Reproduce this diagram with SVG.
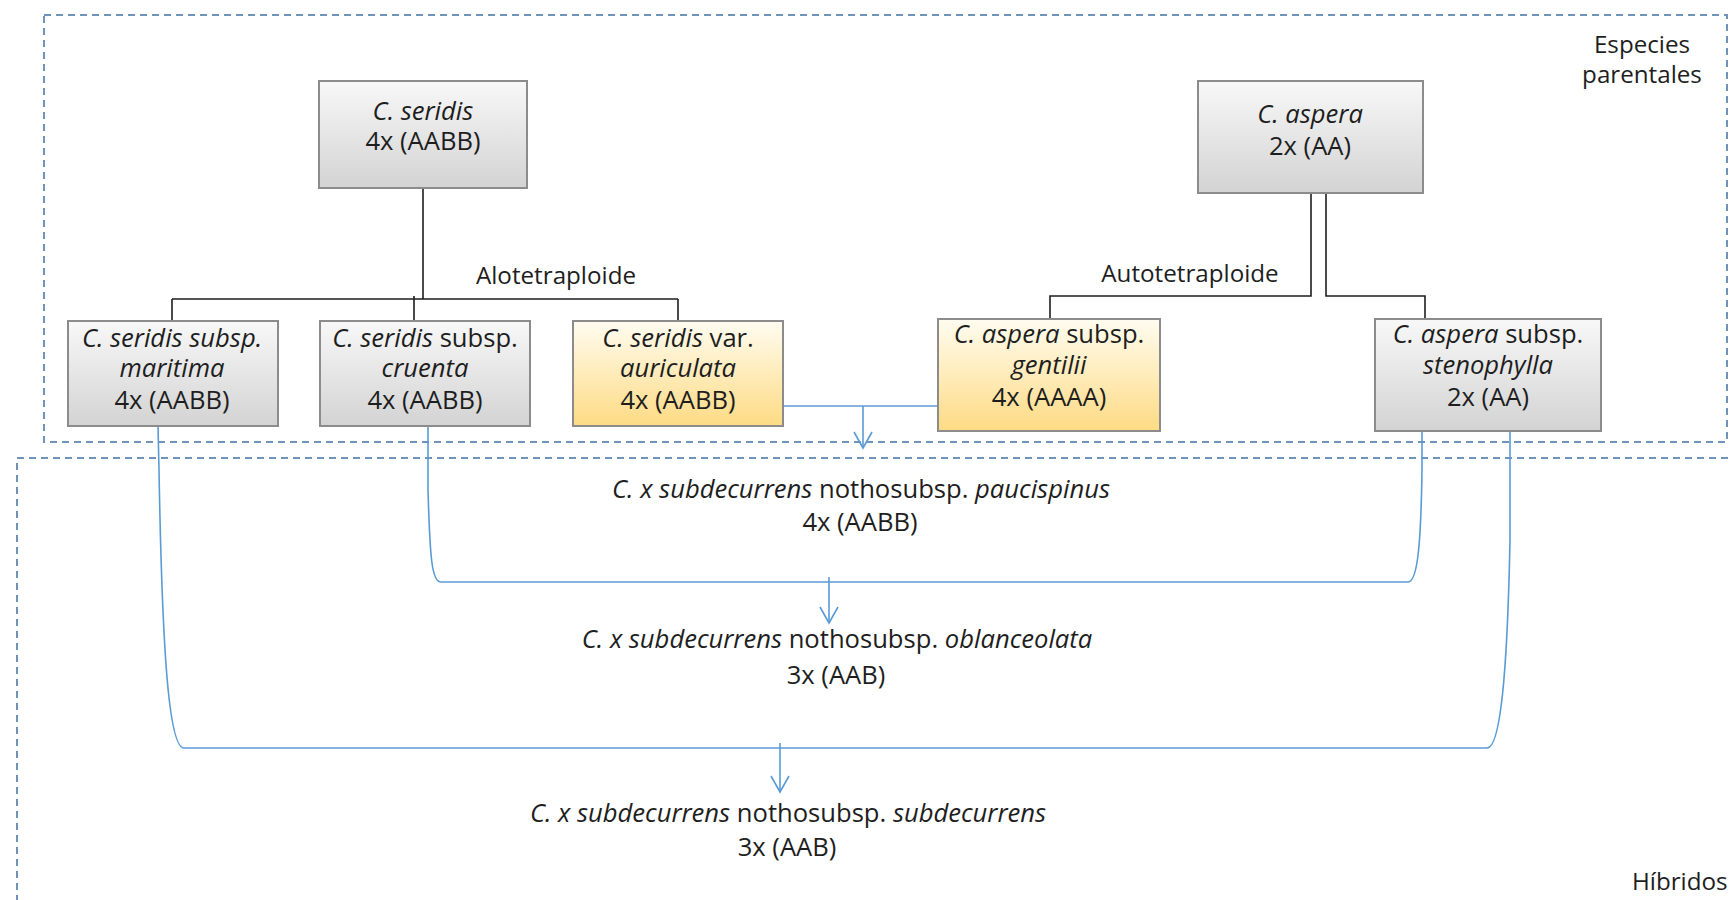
<svg xmlns="http://www.w3.org/2000/svg" width="1729" height="900" viewBox="0 0 1729 900">
<defs>
<linearGradient id="gGray" x1="0" y1="0" x2="0" y2="1">
<stop offset="0" stop-color="#f8f8f8"/>
<stop offset="1" stop-color="#d3d3d3"/>
</linearGradient>
<linearGradient id="gGold" x1="0" y1="0" x2="0" y2="1">
<stop offset="0" stop-color="#fffcf0"/>
<stop offset="1" stop-color="#fedb84"/>
</linearGradient>
<marker id="arr" markerUnits="userSpaceOnUse" viewBox="-18 -11 20 22" markerWidth="20" markerHeight="22" refX="0" refY="0" orient="auto">
<path d="M-16,-9 L0,0 L-16,9" fill="none" stroke="#5b9bd5" stroke-width="1.6"/>
</marker>
<style>
text{font-family:"Open Sans","Liberation Sans",sans-serif;font-size:25.6px;fill:#1e1e1e}
.lbl{font-size:24.2px}
.m{text-anchor:middle}
.i{font-style:italic}
.box{stroke:#8c8c8c;stroke-width:2}
.gray{fill:url(#gGray)}
.gold{fill:url(#gGold)}
.blk{fill:none;stroke:#1e1e1e;stroke-width:1.6}
.blue{fill:none;stroke:#5b9bd5;stroke-width:1.6}
.region{fill:none;stroke:#6f93b9;stroke-width:2;stroke-dasharray:7 5}
</style>
</defs>
<rect width="1729" height="900" fill="#ffffff"/>

<g id="region-parentales">
<rect class="region" x="44" y="15" width="1683" height="427"/>
<text class="m lbl" x="1642" y="53">Especies</text>
<text class="m lbl" x="1642" y="83">parentales</text>
</g>
<g id="region-hibridos">
<rect class="region" x="17" y="458" width="1730" height="460"/>
<text class="lbl" x="1632" y="890">Híbridos</text>
</g>

<g id="connectors">
<path class="blk" d="M423,188 V299 M172,299 H678 M172,299 V321 M414,296 V321 M678,299 V321"/>
<path class="blk" d="M1311,193 V296 H1050 V319"/>
<path class="blk" d="M1326,193 V296 H1425 V319"/>
<text class="m lbl" x="556" y="284">Alotetraploide</text>
<text class="m lbl" x="1190" y="282">Autotetraploide</text>
<path class="blue" d="M783,406 H938"/>
<path class="blue" d="M863,406 V448" marker-end="url(#arr)"/>
<path class="blue" d="M428,426 L428,490 C430,560 432,582 441,582 L1408,582 C1418,582 1421,540 1422,470 L1422,431"/>
<path class="blue" d="M829,577 V623" marker-end="url(#arr)"/>
<path class="blue" d="M158,426 L159,470 C162,640 168,748 184,748 L1487,748 C1503,748 1508,640 1510,540 L1510,431"/>
<path class="blue" d="M780,743 V792" marker-end="url(#arr)"/>
</g>

<g id="node-seridis">
<rect class="box gray" x="319" y="81" width="208" height="107"/>
<text class="m" x="423" y="120"><tspan class="i">C. seridis</tspan></text>
<text class="m" x="423" y="150">4x (AABB)</text>
</g>
<g id="node-aspera">
<rect class="box gray" x="1198" y="81" width="225" height="112"/>
<text class="m" x="1310" y="123"><tspan class="i">C. aspera</tspan></text>
<text class="m" x="1310" y="155">2x (AA)</text>
</g>
<g id="node-maritima">
<rect class="box gray" x="68" y="321" width="210" height="105"/>
<text class="m i" x="172" y="347">C. seridis subsp.</text>
<text class="m i" x="172" y="377">maritima</text>
<text class="m" x="172" y="409">4x (AABB)</text>
</g>
<g id="node-cruenta">
<rect class="box gray" x="320" y="321" width="210" height="105"/>
<text class="m" x="425" y="347"><tspan class="i">C. seridis</tspan> subsp.</text>
<text class="m i" x="425" y="377">cruenta</text>
<text class="m" x="425" y="409">4x (AABB)</text>
</g>
<g id="node-auriculata">
<rect class="box gold" x="573" y="321" width="210" height="105"/>
<text class="m" x="678" y="347"><tspan class="i">C. seridis</tspan> var.</text>
<text class="m i" x="678" y="377">auriculata</text>
<text class="m" x="678" y="409">4x (AABB)</text>
</g>
<g id="node-gentilii">
<rect class="box gold" x="938" y="319" width="222" height="112"/>
<text class="m" x="1049" y="343"><tspan class="i">C. aspera</tspan> subsp.</text>
<text class="m i" x="1049" y="374">gentilii</text>
<text class="m" x="1049" y="406">4x (AAAA)</text>
</g>
<g id="node-stenophylla">
<rect class="box gray" x="1375" y="319" width="226" height="112"/>
<text class="m" x="1488" y="343"><tspan class="i">C. aspera</tspan> subsp.</text>
<text class="m i" x="1488" y="374">stenophylla</text>
<text class="m" x="1488" y="406">2x (AA)</text>
</g>

<g id="node-paucispinus">
<text class="m" x="861" y="498"><tspan class="i">C. x subdecurrens</tspan> nothosubsp. <tspan class="i">paucispinus</tspan></text>
<text class="m" x="860" y="531">4x (AABB)</text>
</g>
<g id="node-oblanceolata">
<text class="m" x="837" y="648"><tspan class="i">C. x subdecurrens</tspan> nothosubsp. <tspan class="i">oblanceolata</tspan></text>
<text class="m" x="836" y="684">3x (AAB)</text>
</g>
<g id="node-subdecurrens">
<text class="m" x="788" y="822"><tspan class="i">C. x subdecurrens</tspan> nothosubsp. <tspan class="i">subdecurrens</tspan></text>
<text class="m" x="787" y="856">3x (AAB)</text>
</g>
</svg>
